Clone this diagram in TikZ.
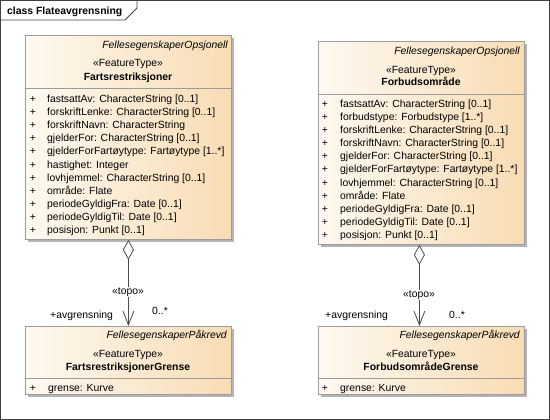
\documentclass[tikz,border=0pt]{standalone}
\usepackage{fontspec}
\setmainfont{Liberation Sans}
\usetikzlibrary{arrows.meta,shadows}
\definecolor{boxL}{HTML}{FEF9F1}
\definecolor{boxR}{HTML}{F8DCB4}
\definecolor{boxline}{HTML}{9C9C9C}
\definecolor{shad}{HTML}{B4B4B4}
\definecolor{conn}{HTML}{4A4A4A}
\begin{document}
\begin{tikzpicture}[x=1pt,y=-1pt,
  classbox/.style={draw=boxline, line width=0.8pt, left color=boxL, right color=boxR,
    anchor=north west, inner sep=0pt,
    drop shadow={shadow xshift=3pt, shadow yshift=-3pt, fill=shad, opacity=1}},
  txt/.style={font=\fontsize{10.4}{12}\selectfont, inner sep=0pt, text=black},
  attr/.style={txt, anchor=base west},
  plus/.style={txt, anchor=base},
  stereo/.style={txt, font=\fontsize{10.4}{12}\selectfont\itshape, anchor=base east},
  ftype/.style={txt, anchor=base},
  cname/.style={txt, font=\fontsize{10.4}{12}\selectfont\bfseries, anchor=base},
  sepline/.style={draw=boxline, line width=0.8pt},
  assoc/.style={draw=conn, line width=0.8pt,
    {Diamond[length=20pt,width=11pt,fill=white]}-{Straight Barb[length=14pt,width=11pt]}},
  lbl/.style={txt, anchor=base west},
]
\useasboundingbox (0,0) rectangle (550,420);
% frame
\draw[black!75, line width=0.8pt] (0.5,0.5) rectangle (549.5,419.5);
\draw[black!75, line width=0.8pt] (0.5,20) -- (125,20) -- (137,8) -- (137,0.5);
\node[txt, font=\fontsize{10.4}{12}\selectfont\bfseries, anchor=base west] (title) at (7,14.7) {class Flateavgrensning};

% boxes
\node[classbox, minimum width=206pt, minimum height=204pt] (b1) at (25,35) {};
\node[classbox, minimum width=206pt, minimum height=203pt] (b2) at (318,41) {};
\node[classbox, minimum width=206pt, minimum height=68pt] (b3) at (25,326) {};
\node[classbox, minimum width=206pt, minimum height=68pt] (b4) at (318,326) {};

\draw[sepline] (25,88.5) -- (231,88.5);
\draw[sepline] (318,94) -- (524,94);
\draw[sepline] (25,378) -- (231,378);
\draw[sepline] (318,378) -- (524,378);

% box 1 header
\node[stereo] (s1) at (228,48.7) {FellesegenskaperOpsjonell};
\node[ftype] (f1) at (128,66.7) {«FeatureType»};
\node[cname] (n1) at (128,80.7) {Fartsrestriksjoner};
\foreach \t [count=\i] in {{fastsattAv: CharacterString [0..1]},
  {forskriftLenke: CharacterString [0..1]},
  {forskriftNavn: CharacterString},
  {gjelderFor: CharacterString [0..1]},
  {gjelderForFartøytype: Fartøytype [1..*]},
  {hastighet: Integer},
  {lovhjemmel: CharacterString [0..1]},
  {område: Flate},
  {periodeGyldigFra: Date [0..1]},
  {periodeGyldigTil: Date [0..1]},
  {posisjon: Punkt [0..1]}} {
  \node[plus] (pa\i) at (33,{102.5+13.1*(\i-1)}) {+};
  \node[attr] (aa\i) at (47,{102.5+13.1*(\i-1)}) {\t};
}

% box 2 header
\node[stereo] (s2) at (520,54.7) {FellesegenskaperOpsjonell};
\node[ftype] (f2) at (421,73.7) {«FeatureType»};
\node[cname] (n2) at (421,85.7) {Forbudsområde};
\foreach \t [count=\i] in {{fastsattAv: CharacterString [0..1]},
  {forbudstype: Forbudstype [1..*]},
  {forskriftLenke: CharacterString [0..1]},
  {forskriftNavn: CharacterString [0..1]},
  {gjelderFor: CharacterString [0..1]},
  {gjelderForFartøytype: Fartøytype [1..*]},
  {lovhjemmel: CharacterString [0..1]},
  {område: Flate},
  {periodeGyldigFra: Date [0..1]},
  {periodeGyldigTil: Date [0..1]},
  {posisjon: Punkt [0..1]}} {
  \node[plus] (pb\i) at (325,{107.5+13.1*(\i-1)}) {+};
  \node[attr] (ab\i) at (340,{107.5+13.1*(\i-1)}) {\t};
}

% box 3
\node[stereo] (s3) at (227,338.7) {FellesegenskaperPåkrevd};
\node[ftype] (f3) at (128,357.7) {«FeatureType»};
\node[cname] (n3) at (128,370.7) {FartsrestriksjonerGrense};
\node[plus] (pc1) at (33,391.5) {+};
\node[attr] (ac1) at (48,391.5) {grense: Kurve};

% box 4
\node[stereo] (s4) at (520,338.7) {FellesegenskaperPåkrevd};
\node[ftype] (f4) at (421,357.7) {«FeatureType»};
\node[cname] (n4) at (421,370.7) {ForbudsområdeGrense};
\node[plus] (pd1) at (325,391.5) {+};
\node[attr] (ad1) at (340,391.5) {grense: Kurve};

% connectors
\draw[assoc] (b1.south) -- (b3.north);
\draw[assoc] ([xshift=-2pt]b2.south) -- ([xshift=-2pt]b4.north);

\node[txt, fill=white, inner sep=1pt] (t1) at (128,292) {«topo»};
\node[txt, fill=white, inner sep=1pt] (t2) at (419,295) {«topo»};
\node[lbl] (r1) at (50,318.5) {+avgrensning};
\node[lbl] (m1) at (152,314.5) {0..*};
\node[lbl] (r2) at (325,318.5) {+avgrensning};
\node[lbl] (m2) at (449,318.5) {0..*};
\end{tikzpicture}
\end{document}
